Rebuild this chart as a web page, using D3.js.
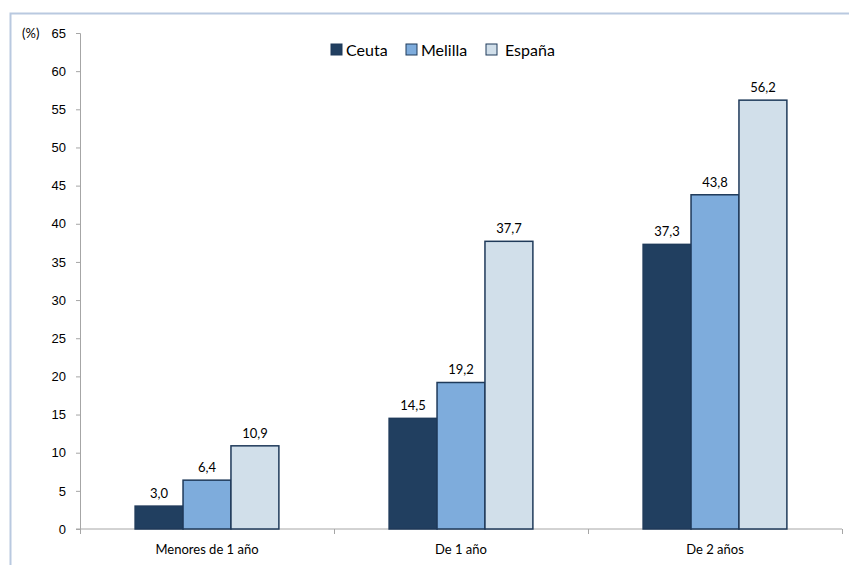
<!DOCTYPE html>
<html>
<head>
<meta charset="utf-8">
<script src="https://cdn.jsdelivr.net/npm/d3@7"></script>
<style>
  body { margin: 0; background: #fff; }
  svg { font-family: Lato, "Open Sans", sans-serif; }
</style>
</head>
<body>
<svg id="chart" width="849" height="565"></svg>
<script>
const categories = ['Menores de 1 año', 'De 1 año', 'De 2 años'];
const seriesNames = ['Ceuta', 'Melilla', 'España'];
const ceuta = [3.0, 14.5, 37.3];
const melilla = [6.4, 19.2, 43.8];
const espana = [10.9, 37.7, 56.2];
const yTicks = [0, 5, 10, 15, 20, 25, 30, 35, 40, 45, 50, 55, 60, 65];

const colors = ['#213f60', '#7eacdc', '#d1dfea'];
const values = [ceuta, melilla, espana];

const svg = d3.select('#chart');
const margin = { left: 80, right: 7, top: 33, bottom: 36 };
const width = +svg.attr('width');
const height = +svg.attr('height');

// outer frame (only top and left edges visible)
svg.append('path')
    .attr('d', `M10.5,${height} L10.5,13.5 L${width},13.5`)
    .attr('fill', 'none')
    .attr('stroke', '#b9c9e0')
    .attr('stroke-width', 2);

const x = d3.scaleBand()
    .domain(categories)
    .range([margin.left, width - margin.right]);

const xInner = d3.scaleBand()
    .domain(seriesNames)
    .range([0, x.bandwidth()])
    .paddingInner(0)
    .paddingOuter(1.15);

const y = d3.scaleLinear()
    .domain([0, 65])
    .range([height - margin.bottom, margin.top]);

const axisColor = '#a6a6a6';

// y axis
const yAxis = svg.append('g')
    .attr('transform', `translate(${margin.left},0)`)
    .call(d3.axisLeft(y).tickValues(yTicks).tickSize(4).tickPadding(10).tickFormat(d3.format('d')));
yAxis.select('.domain').attr('stroke', axisColor);
yAxis.selectAll('.tick line').attr('stroke', axisColor);
yAxis.selectAll('.tick text').attr('fill', '#000').style('font-size', '13px');

svg.append('text')
    .attr('x', 22)
    .attr('y', y(65) + 5)
    .style('font-size', '13px')
    .text('(%)');

// x axis
const xAxisG = svg.append('g')
    .attr('transform', `translate(0,${y(0)})`);
xAxisG.append('line')
    .attr('x1', margin.left - 4).attr('x2', width - margin.right)
    .attr('stroke', axisColor);
const bounds = [margin.left, ...categories.map(c => x(c) + x.bandwidth())];
xAxisG.selectAll('line.sep')
    .data(bounds)
    .enter()
    .append('line')
    .attr('class', 'sep')
    .attr('x1', d => Math.round(d) + 0.5)
    .attr('x2', d => Math.round(d) + 0.5)
    .attr('y1', 0)
    .attr('y2', 5)
    .attr('stroke', axisColor);
xAxisG.selectAll('text')
    .data(categories)
    .enter()
    .append('text')
    .attr('x', d => x(d) + x.bandwidth() / 2)
    .attr('y', 25)
    .attr('text-anchor', 'middle')
    .style('font-size', '13px')
    .text(d => d);

// bars
const groups = svg.append('g')
    .selectAll('g')
    .data(categories)
    .enter()
    .append('g')
    .attr('transform', d => `translate(${x(d)},0)`);

const fmt = v => v.toFixed(1).replace('.', ',');

seriesNames.forEach((name, si) => {
    groups.append('rect')
        .attr('x', (d, i) => xInner(name))
        .attr('y', (d, i) => y(values[si][i]))
        .attr('width', xInner.bandwidth())
        .attr('height', (d, i) => y(0) - y(values[si][i]))
        .attr('fill', colors[si])
        .attr('stroke', '#1f3a5a')
        .attr('stroke-width', 1.5);

    groups.append('text')
        .attr('x', (d, i) => xInner(name) + xInner.bandwidth() / 2)
        .attr('y', (d, i) => y(values[si][i]) - 8)
        .attr('text-anchor', 'middle')
        .style('font-size', '13px')
        .text((d, i) => fmt(values[si][i]));
});

// legend
const legendX = [331, 406, 486];
const legend = svg.append('g')
    .selectAll('g')
    .data(seriesNames)
    .enter()
    .append('g')
    .attr('transform', (d, i) => `translate(${legendX[i]},44)`);
legend.append('rect')
    .attr('width', 11)
    .attr('height', 11)
    .attr('fill', (d, i) => colors[i])
    .attr('stroke', '#1f3a5a')
    .attr('stroke-width', 1);
legend.append('text')
    .attr('x', (d, i) => i === 2 ? 19 : 15)
    .attr('y', 12)
    .style('font-size', '16px')
    .text(d => d);
</script>
</body>
</html>
